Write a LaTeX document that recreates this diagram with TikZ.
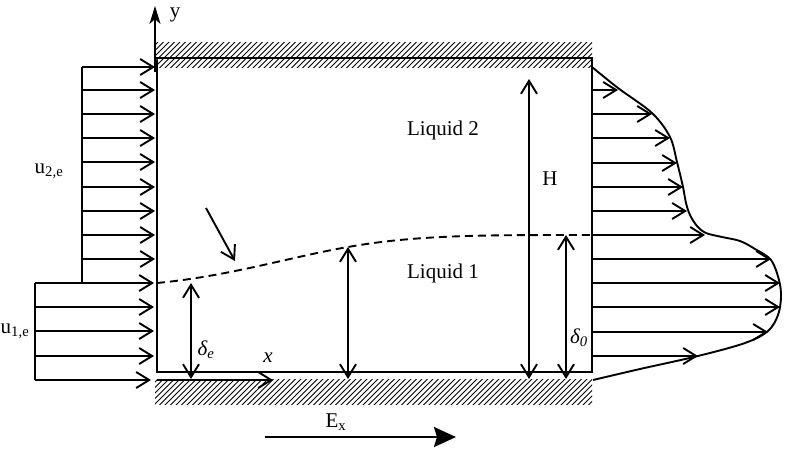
\documentclass[tikz,border=0pt]{standalone}
\usepackage{fontspec}
\setmainfont{Liberation Serif}
\usetikzlibrary{arrows.meta}
\tikzset{
  thick line/.style={line width=1.9pt},
  vbarb/.style={thick line,-{Straight Barb[length=13pt,width=16pt]}},
  dvbarb/.style={thick line,{Straight Barb[length=13pt,width=16pt]}-{Straight Barb[length=13pt,width=16pt]}},
  hatchline/.style={line width=0.9pt},
  lbl/.style={inner sep=0pt,font=\fontsize{21}{24}\selectfont},
  dashline/.style={thick line,dash pattern=on 8pt off 5pt},
}
\begin{document}
\begin{tikzpicture}[x=1pt,y=-1pt]
\useasboundingbox (0,0) rectangle (785,448);
% hatching
\begin{scope}
  \clip (155,42) rectangle (592,67);
  \foreach \i in {0,...,85} \draw[hatchline] (130+\i*5.5,70) -- ++(32,-32);
\end{scope}
\begin{scope}
  \clip (155,379) rectangle (592,404);
  \foreach \i in {0,...,85} \draw[hatchline] (130+\i*5.5,407) -- ++(32,-32);
\end{scope}
% channel box
\coordinate (tl) at (157,58);
\coordinate (tr) at (592,58);
\coordinate (bl) at (157,372);
\coordinate (br) at (592,372);
\draw[thick line] (155,58) -- (tr) -- (br) -- (bl) -- (157,60);
% y axis
\coordinate (y0) at (155,72);
\coordinate (y1) at (155,6);
\draw[thick line,-{Stealth[length=18pt,width=11pt,inset=5pt]}] (y0) -- (y1);
\node[lbl] (ylab) at (175,15) {y};
% x axis
\coordinate (x0) at (157,380);
\coordinate (x1) at (273,380);
\draw[vbarb] (x0) -- (x1);
\node[lbl] (xlab) at (268,358) {\itshape x};
% inlet liquid 2
\draw[thick line] (82,67) -- (82,283);
\foreach \yy in {67,90,114,138,162,187,211,235,259}
  \draw[vbarb] (82,\yy) -- (155,\yy);
% inlet liquid 1
\draw[thick line] (35,283) -- (35,380);
\foreach \yy in {283,307,331,356}
  \draw[vbarb] (35,\yy) -- (154,\yy);
\draw[vbarb] (35,380) -- (151,380);
\node[lbl] (u2) at (49,171) {u\textsubscript{2,e}};
\node[lbl] (u1) at (15,331) {u\textsubscript{1,e}};
% interface
\coordinate (i0) at (157,283);
\coordinate (i1) at (348,247);
\coordinate (i2) at (566,235);
\coordinate (i3) at (592,235);
\draw[dashline] (i0) .. controls (230,276) and (290,257) .. (i1)
   .. controls (410,236) and (470,235) .. (i2) -- (i3);
% diagonal arrow
\coordinate (d0) at (206,208);
\coordinate (d1) at (235,261);
\draw[vbarb] (d0) -- (d1);
% height arrows
\draw[dvbarb] (191,283) -- (191,379);
\node[lbl] (de) at (206,350) {\itshape δ\textsubscript{e}};
\draw[dvbarb] (348,247) -- (348,379);
\draw[dvbarb] (529,79) -- (529,379);
\node[lbl] (H) at (550,179) {H};
\draw[dvbarb] (566,235) -- (566,379);
\node[lbl] (d0l) at (579,338) {\itshape δ\textsubscript{0}};
% labels
\node[lbl] (L2) at (443,130) {Liquid 2};
\node[lbl] (L1) at (443,273) {Liquid 1};
% outlet arrows
\foreach \yy/\xx in {90/618,114/652,138/670,163/677,187/683,211/687,235/705,259/771,283/780,307/780,332/768,356/698}
  \draw[vbarb] (592,\yy) -- (\xx,\yy);
% outlet profile
\draw[thick line] plot[smooth,tension=0.55] coordinates {
  (592,67) (618,88) (652,113) (670,137) (677,162) (683,187) (686,203)
  (690,215) (697,226) (706,233) (722,237) (740,241) (755,249) (771,260)
  (779,280) (781,297) (778,315) (768,331) (745,343) (698,356) (640,369) (593,380)};
% E field
\coordinate (e0) at (265,437);
\coordinate (e1) at (456,437);
\draw[line width=2.2pt,-{Stealth[length=22pt,width=20pt,inset=3pt]}] (e0) -- (e1);
\node[lbl] (Ex) at (336,422) {E\textsubscript{x}};
\end{tikzpicture}
\end{document}
